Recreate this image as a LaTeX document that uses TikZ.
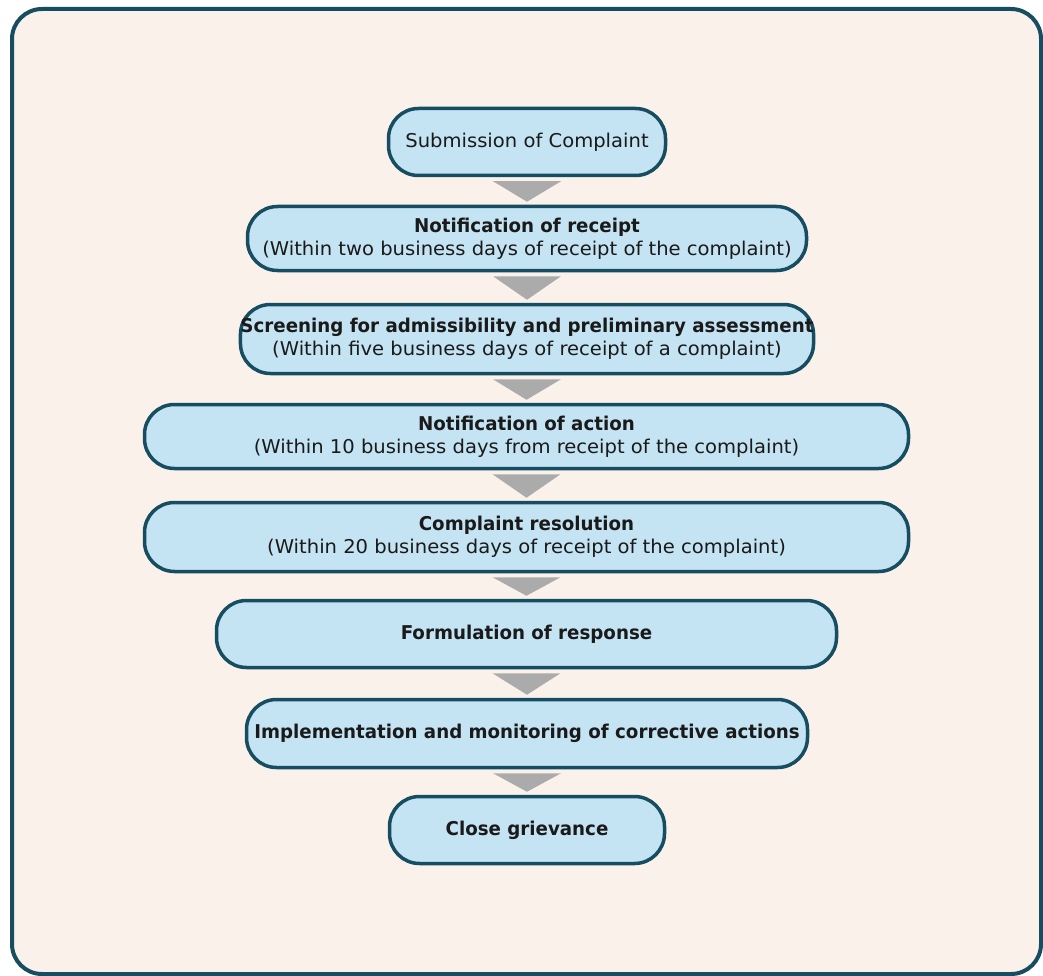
\documentclass[tikz,border=0pt]{standalone}
\usepackage{fontspec}
\setmainfont{DejaVu Sans}[FakeStretch=1.03, BoldFeatures={FakeStretch=0.96}]
\usetikzlibrary{calc}
\definecolor{framec}{HTML}{174D61}
\definecolor{bgc}{HTML}{FAF1EB}
\definecolor{boxfill}{HTML}{C4E4F4}
\definecolor{arrowc}{HTML}{ABABAB}
\definecolor{textc}{HTML}{1A1A1A}
\begin{document}
\begin{tikzpicture}[x=1pt,y=-1pt,
  stepbox/.style={draw=framec, line width=3.5pt, fill=boxfill, rounded corners=30pt,
    inner sep=0pt, align=center, text=textc,
    font=\fontsize{19}{23}\selectfont},
  downarrow/.style={fill=arrowc}
]
\useasboundingbox (0,0) rectangle (1043,976);
\fill[white] (0,0) rectangle (1043,976);
\draw[line width=4pt, draw=framec, fill=bgc, rounded corners=30pt] (12,9) rectangle (1041,974);

\node[stepbox, minimum width=277pt, minimum height=67pt] (n1) at (527,142) {Submission of Complaint};
\node[stepbox, minimum width=559pt, minimum height=64pt] (n2) at (527,238.5) {\textbf{Notification of receipt}\\(Within two business days of receipt of the complaint)};
\node[stepbox, minimum width=569pt, minimum height=69pt] (n3) at (527,339) {\textbf{Screening for admissibility and preliminary assessment}\\(Within five business days of receipt of a complaint)};
\node[stepbox, minimum width=764pt, minimum height=64pt] (n4) at (526.5,436.5) {\textbf{Notification of action}\\(Within 10 business days from receipt of the complaint)};
\node[stepbox, minimum width=764pt, minimum height=69pt] (n5) at (526.5,537) {\textbf{Complaint resolution}\\(Within 20 business days of receipt of the complaint)};
\node[stepbox, minimum width=620pt, minimum height=67pt] (n6) at (526.5,634) {\textbf{Formulation of response}};
\node[stepbox, minimum width=561pt, minimum height=68pt] (n7) at (527,733.5) {\textbf{Implementation and monitoring of corrective actions}};
\node[stepbox, minimum width=275pt, minimum height=67pt] (n8) at (527,830) {\textbf{Close grievance}};

\foreach \a/\b in {n1/n2,n2/n3,n3/n4,n4/n5,n5/n6,n6/n7,n7/n8}{
  \fill[downarrow] ($(\a.south)+(-34,4)$) -- ($(\a.south)+(34,4)$) -- ($(\b.north)+(0,-3)$) -- cycle;
}
\end{tikzpicture}
\end{document}
